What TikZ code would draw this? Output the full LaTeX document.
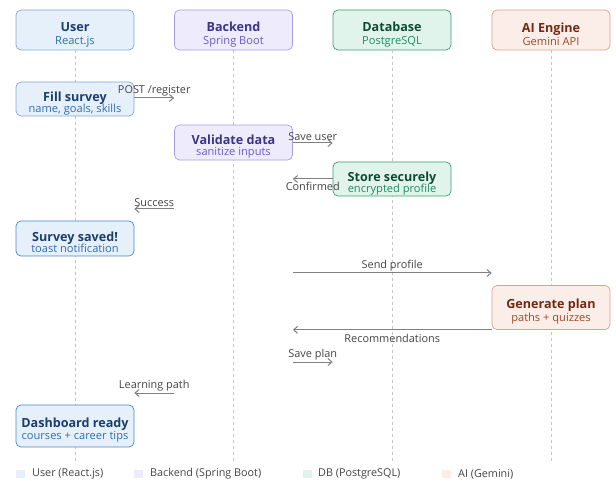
\documentclass[tikz,border=0pt]{standalone}
\usepackage{fontspec}
\setmainfont{Open Sans}
\usetikzlibrary{arrows.meta}
\definecolor{ufill}{HTML}{E6F0FB}\definecolor{udraw}{HTML}{7FA8D8}\definecolor{utit}{HTML}{1B3F6B}\definecolor{usub}{HTML}{2F6DB0}
\definecolor{ubold}{HTML}{4A86C8}
\definecolor{bfill}{HTML}{EEEBFC}\definecolor{bdraw}{HTML}{A99DE3}\definecolor{btit}{HTML}{3C3489}\definecolor{bsub}{HTML}{6A5BC8}
\definecolor{dfill}{HTML}{E1F4EC}\definecolor{ddraw}{HTML}{3C9A78}\definecolor{dtit}{HTML}{0F4A36}\definecolor{dsub}{HTML}{1E8A62}
\definecolor{afill}{HTML}{FBEDE7}\definecolor{adraw}{HTML}{DDA08A}\definecolor{atit}{HTML}{712B13}\definecolor{asub}{HTML}{A2462A}
\definecolor{arr}{HTML}{808080}\definecolor{life}{HTML}{C4C4C4}\definecolor{lbl}{HTML}{444444}
\tikzset{
  box/.style={rounded corners=5pt, minimum width=118pt, align=center, inner sep=0pt, line width=0.7pt},
  ubox/.style={box, fill=ufill, draw=udraw},
  ubox2/.style={box, fill=ufill, draw=ubold},
  bbox/.style={box, fill=bfill, draw=bdraw},
  dbox/.style={box, fill=dfill, draw=ddraw},
  abox/.style={box, fill=afill, draw=adraw},
  lifeline/.style={draw=life, dashed, dash pattern=on 3pt off 3pt, line width=0.6pt},
  msg/.style={draw=arr, line width=1pt, -{Straight Barb[length=4pt,width=7pt]}},
  mlabel/.style={font=\fontsize{10.9}{12}\selectfont, text=lbl, inner sep=0.5pt},
  leg/.style={font=\fontsize{10.8}{12}\selectfont, text=lbl, anchor=west, inner sep=0pt},
}
\newcommand{\bxtitle}[2]{{\rule{0pt}{18pt}\fontsize{12.6}{14}\selectfont\bfseries\color{#1}#2}}
\newcommand{\bxsub}[2]{{\fontsize{11.1}{12}\selectfont\color{#1}#2}}
\begin{document}
\begin{tikzpicture}[x=1pt,y=-1pt]
\useasboundingbox (0,0) rectangle (616,481);
% headers
\node[ubox, minimum height=40pt] (hu) at (75,30) {\bxtitle{utit}{User}\\[1pt]\bxsub{usub}{React.js}};
\node[bbox, minimum height=40pt] (hb) at (233.5,30) {\bxtitle{btit}{Backend}\\[1pt]\bxsub{bsub}{Spring Boot}};
\node[dbox, minimum height=40pt] (hd) at (392,30) {\bxtitle{dtit}{Database}\\[1pt]\bxsub{dsub}{PostgreSQL}};
\node[abox, minimum height=40pt] (ha) at (551,30) {\bxtitle{atit}{AI Engine}\\[1pt]\bxsub{asub}{Gemini API}};
% lifelines
\coordinate (eu) at (75,462);
\coordinate (eb) at (233.5,462);
\coordinate (ed) at (392,462);
\coordinate (ea) at (551,462);
\draw[lifeline] (hu.south) -- (eu);
\draw[lifeline] (hb.south) -- (eb);
\draw[lifeline] (hd.south) -- (ed);
\draw[lifeline] (ha.south) -- (ea);
% activations
\node[ubox, minimum height=34pt] (fill) at (75,99) {\bxtitle{utit}{Fill survey}\\[-1pt]\bxsub{usub}{name, goals, skills}};
\node[bbox, minimum height=35pt] (val) at (233.5,142.5) {\bxtitle{btit}{Validate data}\\[-1pt]\bxsub{bsub}{sanitize inputs}};
\node[dbox, minimum height=34pt] (store) at (392,179) {\bxtitle{dtit}{Store securely}\\[-1pt]\bxsub{dsub}{encrypted profile}};
\node[ubox2, minimum height=35pt] (saved) at (75,238.5) {\bxtitle{utit}{Survey saved!}\\[-1pt]\bxsub{usub}{toast notification}};
\node[abox, minimum height=44pt] (gen) at (551,307.5) {\bxtitle{atit}{Generate plan}\\[1pt]\bxsub{asub}{paths + quizzes}};
\node[ubox2, minimum height=42pt] (dash) at (75,426) {\bxtitle{utit}{Dashboard ready}\\[0pt]\bxsub{usub}{courses + career tips}};
% messages
\draw[msg] (fill.east |- 0,98) -- node[mlabel, above=1pt] {POST /register} (val.west |- 0,98);
\draw[msg] (val.east |- 0,143) -- node[mlabel, above=1pt] {Save user} (store.west |- 0,143);
\draw[msg] (store.west) -- node[mlabel, below=2pt] {Confirmed} (val.east |- store.west);
\draw[msg] (val.west |- 0,209) -- node[mlabel, above=1pt] {Success} (saved.east |- 0,209);
\draw[msg] (val.east |- 0,273) -- node[mlabel, above=1pt] {Send profile} (gen.west |- 0,273);
\draw[msg] (gen.south west) -- node[mlabel, below=3pt] {Recommendations} (val.east |- gen.south west);
\draw[msg] (val.east |- 0,362) -- node[mlabel, above=1pt] {Save plan} (store.west |- 0,362);
\draw[msg] (val.west |- 0,393) -- node[mlabel, above=1pt] {Learning path} (dash.east |- 0,393);
% legend
\fill[ufill] (16,470) rectangle (25,478); \node[leg] (l1) at (32,474) {User (React.js)};
\fill[bfill] (134,470) rectangle (143,478); \node[leg] (l2) at (150,474) {Backend (Spring Boot)};
\fill[dfill] (303,470) rectangle (312,478); \node[leg] (l3) at (318,474) {DB (PostgreSQL)};
\fill[afill] (442,470) rectangle (451,478); \node[leg] (l4) at (458,474) {AI (Gemini)};
\end{tikzpicture}
\end{document}
